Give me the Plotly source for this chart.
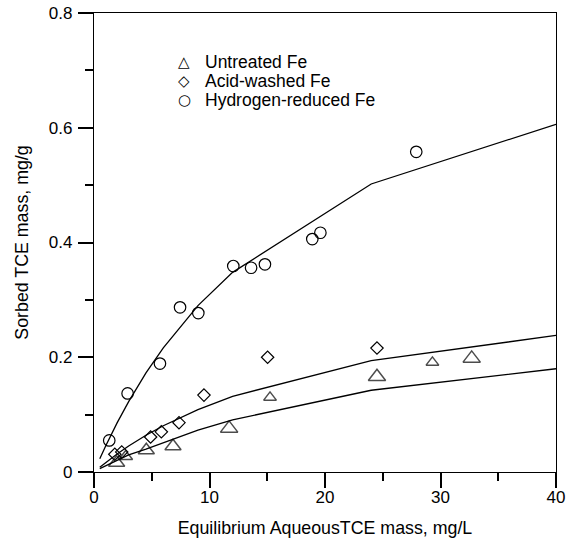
import plotly.graph_objects as go

# Measured isotherm points (x: aqueous TCE mg/L, y: sorbed TCE mg/g)
untreated_x = [1.96, 2.74, 4.53, 6.84, 11.7, 15.24, 24.5, 29.3, 32.7]
untreated_y = [0.016, 0.027, 0.038, 0.045, 0.076, 0.130, 0.166, 0.191, 0.198]
untreated_size = [14, 12, 14, 14, 15, 11, 15, 11, 15]

acid_x = [1.8, 2.4, 4.9, 5.83, 7.36, 9.52, 15.03, 24.5]
acid_y = [0.031, 0.035, 0.061, 0.070, 0.086, 0.134, 0.200, 0.216]

hydrogen_x = [1.32, 2.91, 5.71, 7.45, 9.03, 12.06, 13.6, 14.8, 18.9, 19.6, 27.9]
hydrogen_y = [0.055, 0.137, 0.189, 0.287, 0.277, 0.359, 0.356, 0.362, 0.406, 0.417, 0.558]

# Fitted curves as drawn (vertices)
fit_x = [0.5, 1, 2, 3, 4.5, 6, 9, 12, 24, 40]
fit_untreated = [0.006, 0.011, 0.021, 0.030, 0.040, 0.051, 0.073, 0.091, 0.1425, 0.180]
fit_acid = [0.0084, 0.0165, 0.0315, 0.0453, 0.064, 0.0806, 0.1088, 0.132, 0.194, 0.238]
fit_hydrogen = [0.023, 0.045, 0.0856, 0.1226, 0.1726, 0.2165, 0.290, 0.348, 0.502, 0.606]

legend_labels = ["Untreated Fe", "Acid-washed Fe", "Hydrogen-reduced Fe"]
legend_glyphs = ["\u25B3", "\u25C7", "\u25CB"]

font = "Liberation Sans, Arial, sans-serif"

fig = go.Figure()

# Fit lines first so the hollow markers sit on top
for fy in [fit_untreated, fit_acid, fit_hydrogen]:
    fig.add_trace(go.Scatter(x=fit_x, y=fy, mode="lines",
                             line=dict(color="black", width=1.3),
                             showlegend=False, hoverinfo="skip"))

fig.add_trace(go.Scatter(
    x=untreated_x, y=untreated_y, mode="markers", name=legend_labels[0],
    marker=dict(symbol="triangle-up-open", size=untreated_size, color="black",
                line=dict(width=1.5))))
fig.add_trace(go.Scatter(
    x=acid_x, y=acid_y, mode="markers", name=legend_labels[1],
    marker=dict(symbol="diamond-open", size=9.5, color="black", line=dict(width=1.2))))
fig.add_trace(go.Scatter(
    x=hydrogen_x, y=hydrogen_y, mode="markers", name=legend_labels[2],
    marker=dict(symbol="circle-open", size=11.5, color="black", line=dict(width=1.2))))

# Hand-made legend, tighter than plotly's own
row_y = [0.894, 0.852, 0.810]
for glyph, label, ry in zip(legend_glyphs, legend_labels, row_y):
    fig.add_annotation(xref="paper", yref="paper", x=0.195, y=ry, text=glyph,
                       showarrow=False, xanchor="center", yanchor="middle",
                       font=dict(family="DejaVu Sans", size=15, color="black"))
    fig.add_annotation(xref="paper", yref="paper", x=0.236, y=ry, text=label,
                       showarrow=False, xanchor="left", yanchor="middle",
                       font=dict(family=font, size=17.5, color="black"))

axis_common = dict(showline=True, linecolor="black", linewidth=1.3, mirror=True,
                   ticks="outside", ticklen=15, tickwidth=1.5, tickcolor="black",
                   showgrid=False, zeroline=False, automargin=False,
                   tickfont=dict(family=font, size=17, color="black"))

fig.update_xaxes(range=[0, 40], dtick=10, ticklabelstandoff=-6,
                 minor=dict(dtick=5, ticks="outside", ticklen=8, tickwidth=1.5, tickcolor="black"),
                 title=dict(text="Equilibrium AqueousTCE mass, mg/L",
                            font=dict(family=font, size=17.8, color="black"), standoff=15),
                 **axis_common)
fig.update_yaxes(range=[0, 0.8], dtick=0.2, ticklabelstandoff=2,
                 minor=dict(dtick=0.1, ticks="outside", ticklen=8, tickwidth=1.5, tickcolor="black"),
                 title=dict(text="Sorbed TCE mass, mg/g",
                            font=dict(family=font, size=17.8, color="black"), standoff=15),
                 **axis_common)

fig.update_layout(
    width=577, height=555,
    margin=dict(l=94, r=21, t=13, b=83),
    plot_bgcolor="white", paper_bgcolor="white",
    showlegend=False,
)

# Drop the browser's default body margin so the figure sits at the page corner
fig.write_html("out.html", config={"displayModeBar": False},
               post_script="document.body.style.margin='0';")
